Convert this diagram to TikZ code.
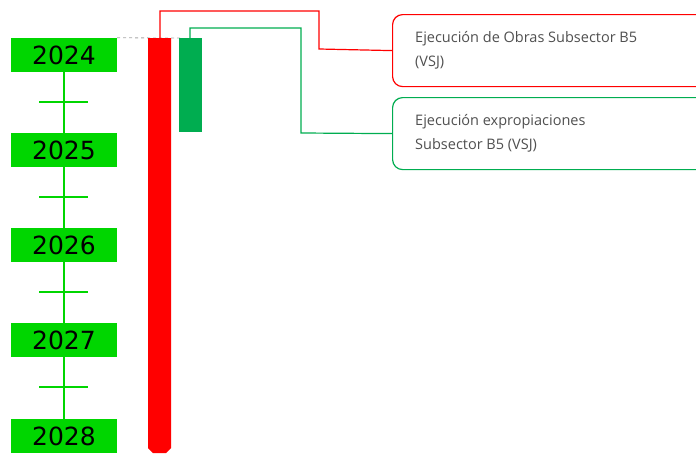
\documentclass[tikz,border=0pt]{standalone}
\usepackage{fontspec}
\setmainfont{Open Sans}
\newfontfamily\yearfont{DejaVu Sans}
\definecolor{ygreen}{RGB}{0,214,0}
\definecolor{dgreen}{RGB}{0,173,80}
\definecolor{bred}{RGB}{255,0,0}
\definecolor{tgray}{RGB}{80,80,80}
\begin{document}
\begin{tikzpicture}[x=1pt,y=-1pt,
  yearbox/.style={fill=ygreen, minimum width=106pt, minimum height=34pt, inner sep=0pt, font=\yearfont\fontsize{25}{25}\selectfont, text=black},
  tline/.style={ygreen, line width=2.5pt},
  callout/.style={rounded corners=10pt, line width=1.2pt, fill=white, minimum width=330pt, minimum height=72pt, anchor=north west, inner sep=0pt},
  ctext/.style={align=left, anchor=north west, font=\fontsize{14.5}{24}\selectfont, text=tgray, inner sep=0pt}]
\useasboundingbox (0,0) rectangle (696,455);
\clip (0,0) rectangle (696,455);
% year boxes
\node[yearbox] (y24) at (64,55) {2024};
\node[yearbox] (y25) at (64,150) {2025};
\node[yearbox] (y26) at (64,245) {2026};
\node[yearbox] (y27) at (64,340) {2027};
\node[yearbox] (y28) at (64,436) {2028};
\draw[tline] (y24.south) -- (y25.north);
\draw[tline] (y25.south) -- (y26.north);
\draw[tline] (y26.south) -- (y27.north);
\draw[tline] (y27.south) -- (y28.north);
\foreach \yy in {102,197,292,387} \draw[tline] (39,\yy) -- (88,\yy);
% dashed guide
\draw[gray!70, dashed, line width=0.8pt] (y24.north east) -- (180,38);
% bars
\fill[bred] (148,38) -- (171,38) -- (171,448) -- (166,453) -- (153,453) -- (148,448) -- cycle;
\coordinate (rtop) at (160,38);
\node[fill=dgreen, minimum width=23pt, minimum height=94pt, inner sep=0pt, anchor=north west] (gbar) at (179,38) {};
\coordinate (gtop) at (190,38);
% callouts
\node[callout, draw=bred] (cr) at (392,14) {};
\node[callout, draw=dgreen] (cg) at (392,97) {};
\node[ctext] (tr) at (415,31) {Ejecución de Obras Subsector B5\\(VSJ)};
\node[ctext] (tg) at (415,114) {Ejecución expropiaciones\\Subsector B5 (VSJ)};
% connectors
\draw[bred, line width=1.2pt] (rtop) -- (160,11) -- (319,11) -- (319,49) -- (cr.west);
\draw[dgreen, line width=1.2pt] (gtop) -- (190,28) -- (301,28) -- (301,133) -- (cg.west);
\end{tikzpicture}
\end{document}
